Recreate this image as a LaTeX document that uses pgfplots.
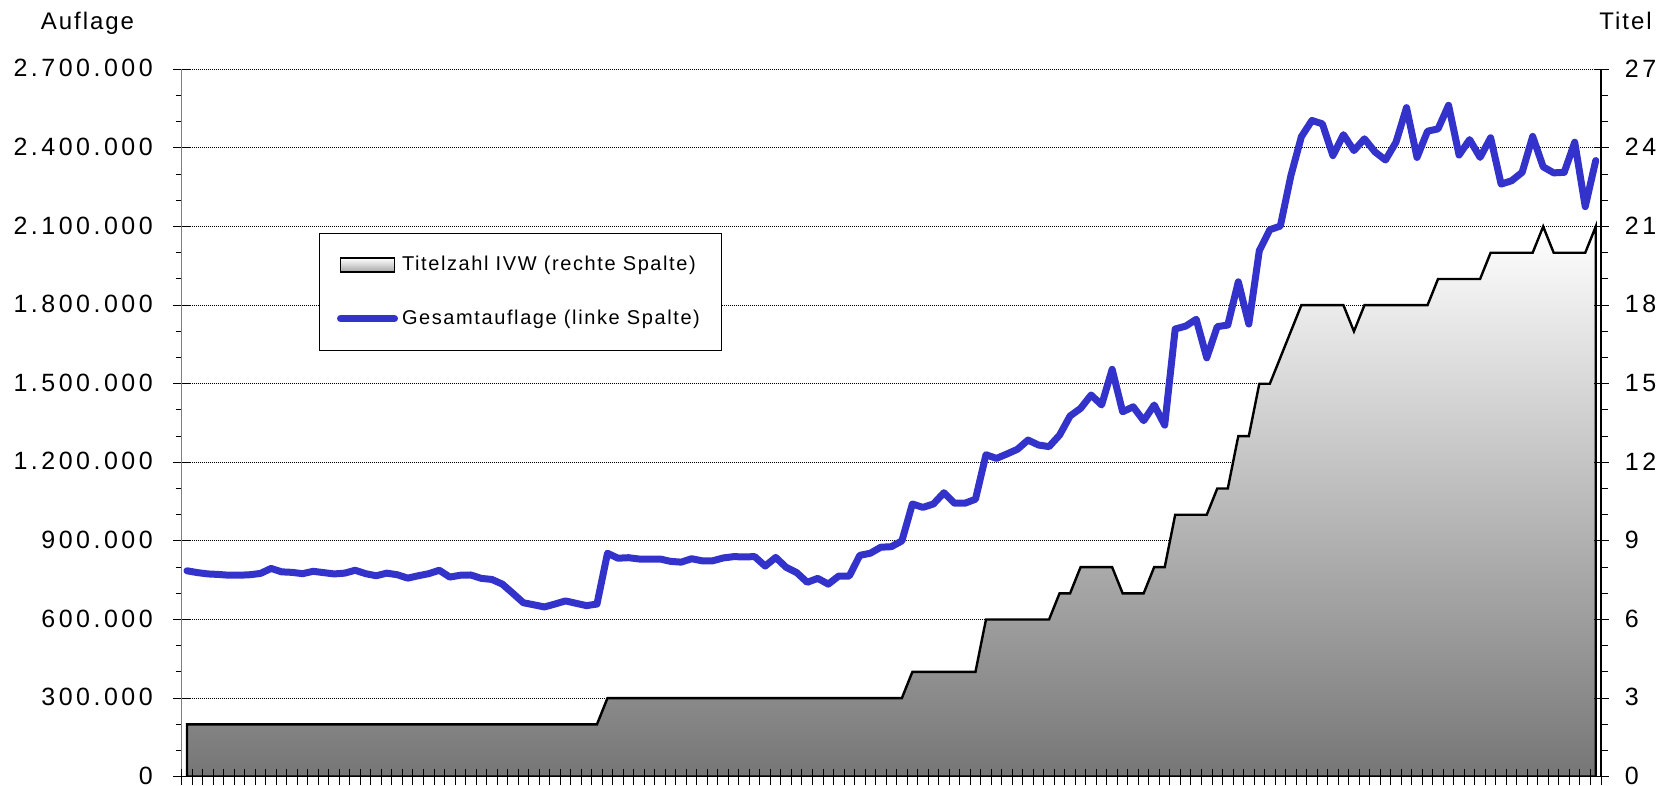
\documentclass[border=0pt]{standalone}
\usepackage{fontspec}
\setmainfont{Liberation Sans}
\newfontfamily\tickfont{Liberation Sans}[LetterSpace=14]
\newfontfamily\legfont{Liberation Sans}[LetterSpace=8]
\usepackage{pgfplots}
\usepackage{pgfplotstable}
\pgfplotsset{compat=1.18}
\definecolor{blueline}{RGB}{51,51,204}
\definecolor{areabot}{RGB}{118,118,118}
\definecolor{areamid}{RGB}{196,196,196}

\pgfplotstableread{
i t a
0 2 786000
1 2 779000
2 2 774000
3 2 772000
4 2 769000
5 2 769000
6 2 771000
7 2 776000
8 2 795000
9 2 782000
10 2 780000
11 2 775000
12 2 784000
13 2 779000
14 2 774000
15 2 777000
16 2 788000
17 2 775000
18 2 767000
19 2 777000
20 2 771000
21 2 758000
22 2 767000
23 2 775000
24 2 788000
25 2 762000
26 2 769000
27 2 770000
28 2 757000
29 2 753000
30 2 735000
31 2 700000
32 2 664000
33 2 656000
34 2 648000
35 2 659000
36 2 671000
37 2 662000
38 2 653000
39 2 659000
40 3 853000
41 3 834000
42 3 836000
43 3 831000
44 3 831000
45 3 831000
46 3 822000
47 3 819000
48 3 832000
49 3 824000
50 3 824000
51 3 835000
52 3 840000
53 3 839000
54 3 840000
55 3 804000
56 3 837000
57 3 799000
58 3 779000
59 3 742000
60 3 757000
61 3 735000
62 3 766000
63 3 766000
64 3 845000
65 3 853000
66 3 876000
67 3 878000
68 3 900000
69 4 1041000
70 4 1028000
71 4 1041000
72 4 1084000
73 4 1044000
74 4 1044000
75 4 1059000
76 6 1229000
77 6 1215000
78 6 1232000
79 6 1250000
80 6 1285000
81 6 1266000
82 6 1260000
83 7 1304000
84 7 1377000
85 8 1406000
86 8 1457000
87 8 1419000
88 8 1555000
89 7 1393000
90 7 1412000
91 7 1359000
92 8 1419000
93 8 1342000
94 10 1709000
95 10 1720000
96 10 1746000
97 10 1599000
98 11 1718000
99 11 1724000
100 13 1889000
101 13 1728000
102 15 2008000
103 15 2088000
104 16 2102000
105 17 2294000
106 18 2443000
107 18 2505000
108 18 2492000
109 18 2371000
110 18 2451000
111 17 2390000
112 18 2435000
113 18 2385000
114 18 2354000
115 18 2422000
116 18 2554000
117 18 2364000
118 18 2464000
119 19 2473000
120 19 2563000
121 19 2373000
122 19 2432000
123 19 2364000
124 20 2439000
125 20 2262000
126 20 2275000
127 20 2307000
128 20 2444000
129 21 2328000
130 20 2305000
131 20 2307000
132 20 2422000
133 20 2176000
134 21 2352000
}\data

\pgfplotsset{
  base/.style={scale only axis, width=709.65pt, height=353.65pt,
    xmin=-0.5, xmax=134.5, at={(0pt,0pt)}, anchor=south west},
}

\begin{document}
\begin{tikzpicture}
\useasboundingbox (-90.85pt,-4.65pt) rectangle (747.15pt,388.35pt);

% left axis, grid
\begin{axis}[base,
  ymin=0, ymax=2700000,
  scaled y ticks=false,
  axis x line=none, axis y line*=left,
  axis line style={-, draw=black!50, line width=0.6pt},
  xtick=\empty,
  ytick={0,300000,600000,900000,1200000,1500000,1800000,2100000,2400000,2700000},
  yticklabels={0,300.000,600.000,900.000,1.200.000,1.500.000,1.800.000,2.100.000,2.400.000,2.700.000},
  minor y tick num=2,
  tick align=center, major tick length=8.5pt, minor tick length=3pt,
  every minor tick/.append style={xshift=-1.5pt},
  tick style={black, line width=0.5pt},
  ymajorgrids,
  major grid style={black, line width=0.5pt, dash pattern=on 0.5pt off 0.5pt},
  yticklabel style={font=\fontsize{12.5}{15}\tickfont, anchor=east, inner sep=0pt, xshift=-10pt, yshift=0.5pt},
]
\end{axis}

% right axis and area
\begin{axis}[base,
  ymin=0, ymax=27,
  scaled y ticks=false,
  axis y line*=right, axis x line*=bottom,
  axis line style={-, black, line width=0.6pt},
  axis on top,
  xtick=\empty,
  ytick={0,3,6,9,12,15,18,21,24,27},
  yticklabels={0,3,6,9,12,15,18,21,24,27},
  minor y tick num=2,
  tick align=center, major tick length=7.5pt, minor tick length=3.5pt,
  every minor tick/.append style={xshift=1.75pt},
  tick style={black, line width=0.5pt},
  yticklabel style={font=\fontsize{12.5}{15}\tickfont, anchor=west, inner sep=0pt, xshift=8pt, yshift=0.5pt},
]
\addplot[draw=black, line width=1.2pt, top color=white, middle color=areamid, bottom color=areabot]
  table[x=i, y=t]{\data} \closedcycle;
\end{axis}

% x ticks on top of the area (minor ticks only, no labels)
\begin{axis}[base,
  ymin=0, ymax=27,
  axis x line*=bottom, axis y line=none,
  axis line style={-, black, line width=0.8pt},
  xtick={500}, ytick={500},
  minor xtick={-0.5,0.5,...,134.5},
  tick align=center, minor tick length=8pt,
  tick style={black, line width=0.5pt},
]
\end{axis}

% blue line + legend
\begin{axis}[base,
  ymin=0, ymax=2700000, hide axis,
  legend style={at={(0.0964,0.769)}, anchor=north west, draw=black, line width=0.5pt,
    font=\fontsize{10}{12}\legfont, inner xsep=9pt, inner ysep=9.5pt, row sep=14pt,
    legend cell align=left},
]
\addlegendimage{legend image code/.code={\draw[black, line width=0.8pt, top color=white, bottom color=gray!70] (0pt,-3.5pt) rectangle (27pt,3.5pt);}}
\addlegendentry{Titelzahl IVW (rechte Spalte)}
\addplot[blueline, line width=3.5pt, line join=round, line cap=round,
  legend image code/.code={\draw[blueline, line width=3.5pt] (0pt,0pt) -- (27pt,0pt);}]
  table[x=i, y=a]{\data};
\addlegendentry{Gesamtauflage (linke Spalte)}
\end{axis}

\node[anchor=base west, inner sep=0pt, font=\fontsize{12}{14}\legfont] at (-70.55pt,373.35pt) {Auflage};
\node[anchor=base east, inner sep=0pt, font=\fontsize{12}{14}\legfont] at (735.15pt,373.35pt) {Titel};
\end{tikzpicture}
\end{document}
